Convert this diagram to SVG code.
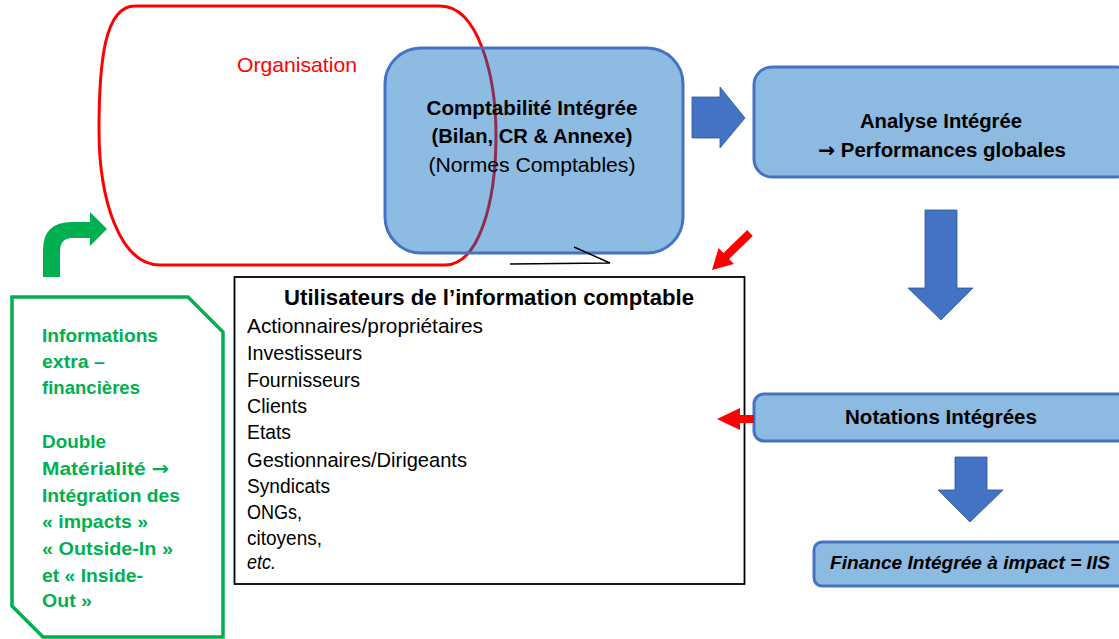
<svg xmlns="http://www.w3.org/2000/svg" width="1119" height="639" viewBox="0 0 1119 639">
<style>
text{font-family:"Liberation Sans",Arial,sans-serif}
.arw{font-family:"DejaVu Sans",sans-serif;font-weight:bold}
.box{fill:#8DBAE0;stroke:#4472C4;stroke-width:3}
.tbox{fill:rgb(2,104,189);fill-opacity:0.45;stroke:#4472C4;stroke-width:3}
.barrow{fill:#4472C4;stroke:#2F5597;stroke-width:0.8}
.rarrow{fill:#FF0000}
.b{font-weight:bold;fill:#000}
.n{fill:#000}
.g{font-weight:bold;fill:#00B050;font-size:19px}
.li{font-size:20.5px;fill:#000}
</style>
<rect width="1119" height="639" fill="#fff"/>
<g id="organisation">
<path d="M135,6 L440,6 C478,6 496,75 496,135 C496,205 478,265 445,265 L160,265 C120,265 99,200 99,130 C99,60 105,6 135,6 Z" fill="none" stroke="#FF0000" stroke-width="3"/>
<text x="297" y="72" font-size="21" fill="#FF0000" text-anchor="middle" textLength="120" lengthAdjust="spacingAndGlyphs">Organisation</text>
</g>
<g id="comptabilite">
<rect class="tbox" x="385" y="48" width="298" height="205" rx="36"/>
<text class="b" x="532" y="115" font-size="20.5" text-anchor="middle" textLength="211" lengthAdjust="spacingAndGlyphs">Comptabilité Intégrée</text>
<text class="b" x="532" y="143" font-size="20.5" text-anchor="middle" textLength="201" lengthAdjust="spacingAndGlyphs">(Bilan, CR &amp; Annexe)</text>
<text class="n" x="532" y="172" font-size="20.5" text-anchor="middle" textLength="207" lengthAdjust="spacingAndGlyphs">(Normes Comptables)</text>
</g>
<g id="analyse">
<rect class="box" x="754" y="67" width="380" height="110" rx="18"/>
<text class="b" x="941" y="128" font-size="20" text-anchor="middle" textLength="162" lengthAdjust="spacingAndGlyphs">Analyse Intégrée</text>
<text class="b" x="942" y="157" font-size="20" text-anchor="middle" textLength="248" lengthAdjust="spacingAndGlyphs"><tspan class="arw">→</tspan> Performances globales</text>
</g>
<g id="notations">
<rect class="box" x="754" y="394" width="380" height="47" rx="10"/>
<text class="b" x="941" y="424" font-size="20" text-anchor="middle" textLength="192" lengthAdjust="spacingAndGlyphs">Notations Intégrées</text>
</g>
<g id="finance">
<rect class="box" x="814" y="542" width="320" height="44" rx="8"/>
<text class="b" x="970" y="569" font-size="19" font-style="italic" text-anchor="middle" textLength="280" lengthAdjust="spacingAndGlyphs">Finance Intégrée à impact = IIS</text>
</g>
<g id="utilisateurs">
<rect x="234.5" y="277" width="510" height="307" fill="#fff" stroke="#000" stroke-width="1.8"/>
<text class="b" x="489" y="305" font-size="22" text-anchor="middle" textLength="410" lengthAdjust="spacingAndGlyphs">Utilisateurs de l’information comptable</text>
<text class="li" x="247" y="333" textLength="236" lengthAdjust="spacingAndGlyphs">Actionnaires/propriétaires</text>
<text class="li" x="247" y="360" textLength="115" lengthAdjust="spacingAndGlyphs">Investisseurs</text>
<text class="li" x="247" y="387" textLength="113" lengthAdjust="spacingAndGlyphs">Fournisseurs</text>
<text class="li" x="247" y="413" textLength="60" lengthAdjust="spacingAndGlyphs">Clients</text>
<text class="li" x="247" y="439" textLength="44" lengthAdjust="spacingAndGlyphs">Etats</text>
<text class="li" x="247" y="467" textLength="220" lengthAdjust="spacingAndGlyphs">Gestionnaires/Dirigeants</text>
<text class="li" x="247" y="493" textLength="83" lengthAdjust="spacingAndGlyphs">Syndicats</text>
<text class="li" x="247" y="519" textLength="55" lengthAdjust="spacingAndGlyphs">ONGs,</text>
<text class="li" x="247" y="545" textLength="75" lengthAdjust="spacingAndGlyphs">citoyens,</text>
<text class="li" x="247" y="569" font-style="italic" textLength="29" lengthAdjust="spacingAndGlyphs">etc.</text>
</g>
<g id="extra-financieres">
<path d="M12,297 L188,297 L223,332 L223,637 L43,637 L12,606 Z" fill="#fff" stroke="#00B050" stroke-width="3.5" stroke-linejoin="miter"/>
<text class="g" x="42" y="342" textLength="116" lengthAdjust="spacingAndGlyphs">Informations</text>
<text class="g" x="42" y="368" textLength="63" lengthAdjust="spacingAndGlyphs">extra –</text>
<text class="g" x="42" y="394" textLength="98" lengthAdjust="spacingAndGlyphs">financières</text>
<text class="g" x="42" y="448" textLength="64" lengthAdjust="spacingAndGlyphs">Double</text>
<text class="g" x="42" y="475" textLength="127" lengthAdjust="spacingAndGlyphs">Matérialité <tspan class="arw">→</tspan></text>
<text class="g" x="42" y="502" textLength="138" lengthAdjust="spacingAndGlyphs">Intégration des</text>
<text class="g" x="42" y="528" textLength="106" lengthAdjust="spacingAndGlyphs">« impacts »</text>
<text class="g" x="42" y="555" textLength="131" lengthAdjust="spacingAndGlyphs">« Outside-In »</text>
<text class="g" x="42" y="582" textLength="101" lengthAdjust="spacingAndGlyphs">et « Inside-</text>
<text class="g" x="42" y="607" textLength="50" lengthAdjust="spacingAndGlyphs">Out »</text>
</g>
<g id="connectors">
<path d="M43,277 L43,250 Q43,222 72,222 L90,222 L90,212 L107,229 L90,246 L90,238 L72,238 Q60,238 60,252 L60,277 Z" fill="#00B050"/>
<polygon class="barrow" points="692,97 720,97 720,87 745,118 720,148 720,138 692,138"/>
<polygon class="barrow" points="925,210 957,210 957,288 973,288 941,320 908,288 925,288"/>
<polygon class="barrow" points="955,457 987,457 987,490 1003,490 970,522 938,490 955,490"/>
<polygon class="rarrow" points="747.2,230.1 723.5,253.1 718.6,248.1 712,270 733.9,263.9 729.1,258.9 752.8,235.9"/>
<polygon class="rarrow" points="717,419 740,408 740,415 754,415 754,423 740,423 740,430"/>
<polyline points="510,264 610,263 574,247" fill="none" stroke="#000" stroke-width="1.5"/>
</g>
</svg>
